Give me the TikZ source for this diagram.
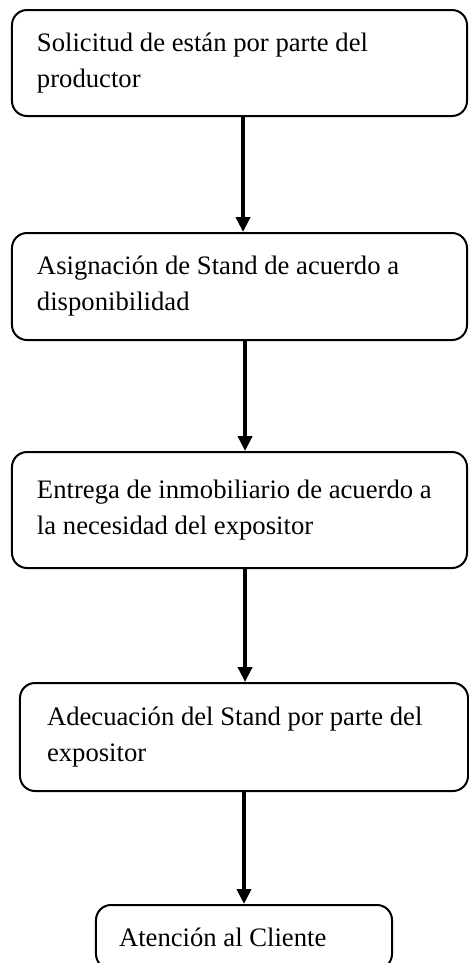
\documentclass[tikz,border=0pt]{standalone}
\usepackage{fontspec}
\setmainfont{Liberation Serif}
\usetikzlibrary{arrows.meta}

\begin{document}
\begin{tikzpicture}[x=0.45pt, y=-0.45pt,
  caja/.style={draw, line width=0.9pt, rounded corners=6.75pt, align=flush left,
    inner xsep=11.25pt, inner ysep=0pt, font=\fontsize{12pt}{16.2pt}\selectfont},
  flecha/.style={line width=1.8pt, -{Triangle[width=6.3pt,length=6.75pt]}}]
\useasboundingbox (0,0) rectangle (469,963);
\node[caja, minimum width=204.75pt, minimum height=47.7pt, text width=182.25pt] (solicitud) at (239.5,63) {Solicitud de están por parte del\\productor};
\node[caja, minimum width=204.75pt, minimum height=48.15pt, text width=182.25pt] (asignacion) at (239.5,286.5) {Asignación de Stand de acuerdo a\\disponibilidad};
\node[caja, minimum width=204.75pt, minimum height=52.2pt, text width=182.25pt] (entrega) at (239.5,510) {Entrega de inmobiliario de acuerdo a\\la necesidad del expositor};
\node[caja, inner xsep=12.15pt, minimum width=201.6pt, minimum height=48.6pt, text width=177.3pt] (adecuacion) at (244,737) {Adecuación del Stand por parte del\\expositor};
\node[caja, inner xsep=10.35pt, minimum width=133.2pt, minimum height=28.8pt, text width=112.5pt] (atencion) at (244,937) {Atención al Cliente};
%\draw (solicitud) -- (atencion);
\draw[flecha] ([xshift=1.6pt]solicitud.south) -- ([xshift=1.6pt]solicitud.south |- asignacion.north);
\draw[flecha] ([xshift=2.5pt]asignacion.south) -- ([xshift=2.5pt]asignacion.south |- entrega.north);
\draw[flecha] ([xshift=2.5pt]entrega.south) -- ([xshift=2.5pt]entrega.south |- adecuacion.north);
\draw[flecha] (adecuacion.south) -- (atencion.north);
\end{tikzpicture}
\end{document}
